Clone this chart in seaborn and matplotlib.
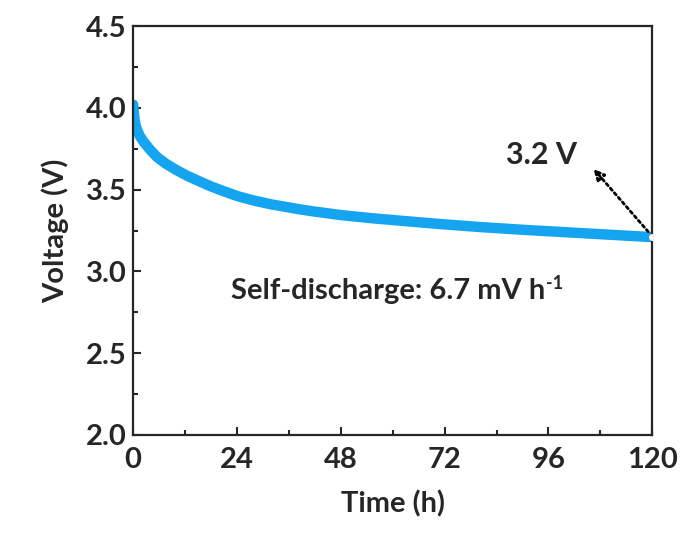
import numpy as np
import pandas as pd
import matplotlib
matplotlib.use("Agg")
import matplotlib.pyplot as plt
import seaborn as sns

# values
time_h = [0, 0.3, 0.6, 1, 1.6, 2.5, 3.9, 5.5, 7.5, 10, 12.5, 15.4, 18, 21, 24.2,
          28, 32, 38.5, 42, 48, 55, 62, 70, 80, 90, 100, 110, 120]
voltage = [4.02, 3.93, 3.89, 3.86, 3.825, 3.79, 3.745, 3.70, 3.66, 3.62, 3.585, 3.55,
           3.52, 3.49, 3.46, 3.433, 3.41, 3.38, 3.366, 3.345, 3.326, 3.31, 3.292,
           3.272, 3.255, 3.24, 3.225, 3.21]
x_ticks = [0, 24, 48, 72, 96, 120]
y_ticks = [2.0, 2.5, 3.0, 3.5, 4.0, 4.5]

df = pd.DataFrame({"Time (h)": time_h, "Voltage (V)": voltage})

sns.set_style("ticks")
plt.rcParams['font.family'] = ['Lato', 'DejaVu Sans']
plt.rcParams['font.weight'] = 'bold'

fig = plt.figure(figsize=(6.83, 5.35), dpi=100)
ax = fig.add_axes([0.195, 0.187, 0.76, 0.764])

sns.lineplot(data=df, x="Time (h)", y="Voltage (V)", ax=ax, color="#14A4F0",
             linewidth=7.5, solid_capstyle="round")
ax.plot([time_h[-1]], [voltage[-1]], "o", color="white", markersize=4, zorder=5)

ax.set_xlim(0, 120)
ax.set_ylim(2.0, 4.5)
ax.set_xticks(x_ticks)
ax.set_yticks(y_ticks)
ax.set_xticks([12, 36, 60, 84, 108], minor=True)
ax.set_yticks([2.25, 2.75, 3.25, 3.75, 4.25], minor=True)
ax.set_yticklabels([f"{v:.1f}" for v in y_ticks])
ax.tick_params(which="major", direction="in", length=6, width=1.5, labelsize=21, pad=5)
ax.tick_params(axis="x", which="major", pad=9)
ax.tick_params(which="minor", direction="in", length=3.5, width=1.5)
for lab in ax.get_xticklabels() + ax.get_yticklabels():
    lab.set_fontweight("bold")
for s in ax.spines.values():
    s.set_linewidth(1.6)
    s.set_visible(True)

ax.set_xlabel("Time (h)", fontsize=21, fontweight="bold", labelpad=12)
ax.set_ylabel("Voltage (V)", fontsize=21, fontweight="bold", labelpad=12)

ax.annotate("", xy=(106, 3.64), xytext=(119.5, 3.23),
            arrowprops=dict(arrowstyle="-|>", linestyle=(0, (1, 1.2)), lw=2,
                            color="black", mutation_scale=16, fill=False))
ax.text(94.5, 3.71, "3.2 V", fontsize=22, fontweight="bold", ha="center", va="center")
t1 = ax.text(22.5, 2.88, "Self-discharge: 6.7 mV h", fontsize=21,
             fontweight="bold", ha="left", va="center")
ax.annotate("-1", xy=(1, 1), xycoords=t1, xytext=(1, 2), textcoords="offset points",
            fontsize=13, fontweight="bold", ha="left", va="top")

fig.savefig("out.png", dpi=100)
